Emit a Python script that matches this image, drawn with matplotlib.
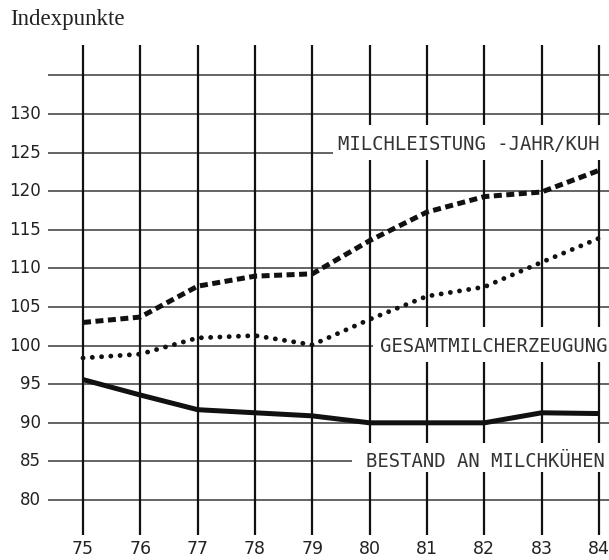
import matplotlib
matplotlib.use("Agg")
import matplotlib.pyplot as plt
from matplotlib.patches import Rectangle

# Index values per year (1975 = 75 ... 1984 = 84)
years = [75, 76, 77, 78, 79, 80, 81, 82, 83, 84]
milchleistung = [103.0, 103.7, 107.7, 109.0, 109.3, 113.6, 117.3, 119.3, 119.9, 122.7]
gesamterzeugung = [98.4, 98.9, 101.0, 101.3, 100.1, 103.4, 106.4, 107.6, 110.8, 113.9]
bestand = [95.6, 93.6, 91.7, 91.3, 90.9, 90.0, 90.0, 90.0, 91.3, 91.2]

y_ticks = [130, 125, 120, 115, 110, 105, 100, 95, 90, 85, 80]
grid_levels = [135] + y_ticks
year_labels = [str(y) for y in years]

fig = plt.figure(figsize=(6.09, 5.6), dpi=100)
ax = fig.add_axes([0, 0, 1, 1])
ax.set_xlim(73.552, 84.175)
ax.set_ylim(72.23, 144.77)
ax.axis("off")

# grid: horizontal lines run to the right edge, verticals above/below the frame
ax.hlines(grid_levels, 74.39, 84.3, colors="#3a3a3a", linewidth=1.1, zorder=1)
ax.vlines(years, 75.5, 138.9, colors="#111111", linewidth=1.6, zorder=1)

# white boxes behind the series captions
for x0, y0, y1 in [(79.36, 124.04, 128.58), (80.06, 97.88, 102.41), (79.69, 83.63, 87.38)]:
    ax.add_patch(Rectangle((x0, y0), 84.4 - x0, y1 - y0, facecolor="white",
                           edgecolor="none", zorder=2))

ax.plot(years, milchleistung, color="#111111", linewidth=3.6,
        linestyle=(0, (1.6, 0.9)), dash_capstyle="butt", zorder=3)
ax.plot(years, gesamterzeugung, color="#111111", linewidth=3.5,
        linestyle=(0, (0.01, 1.9)), dash_capstyle="round", zorder=3)
ax.plot(years, bestand, color="#111111", linewidth=3.6,
        solid_capstyle="butt", zorder=3)

cap = dict(family="DejaVu Sans Mono", fontsize=13.6, color="#333333",
           va="baseline", ha="left", zorder=4)
ax.text(79.45, 125.34, "MILCHLEISTUNG -JAHR/KUH", **cap)
ax.text(80.18, 99.17, "GESAMTMILCHERZEUGUNG", **cap)
ax.text(79.94, 84.28, "BESTAND AN MILCHKÜHEN", **cap)

for v in y_ticks:
    ax.text(74.27, v, str(v), ha="right", va="center", fontsize=12, color="#222222")
for x, lab in zip(years, year_labels):
    ax.text(x, 73.7, lab, ha="center", va="center", fontsize=12.5, color="#222222")

fig.text(0.016, 0.955, "Indexpunkte", family="Liberation Serif", fontsize=16.5,
         color="#222222", ha="left", va="baseline")

fig.savefig("out.png", dpi=100, facecolor="white")
